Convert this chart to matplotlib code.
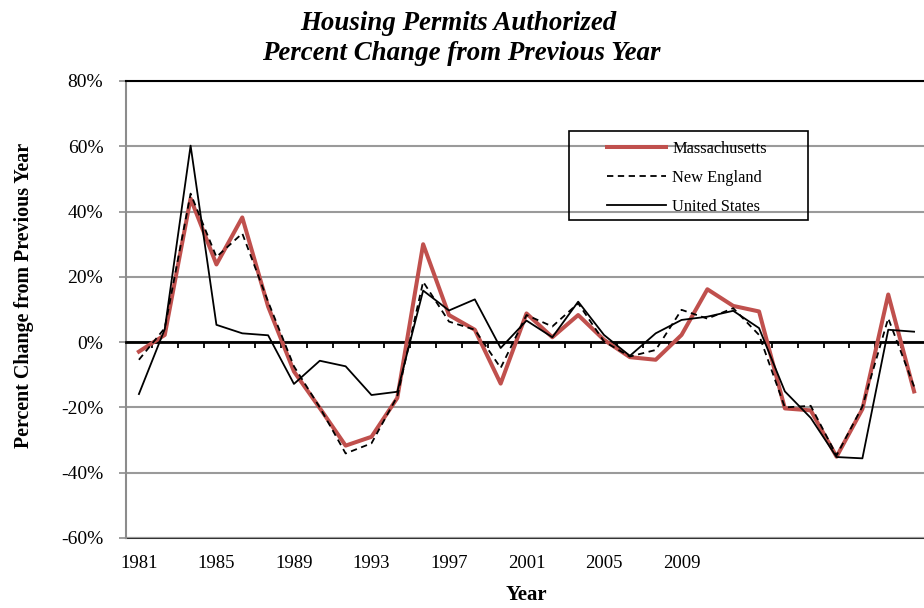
import numpy as np
import matplotlib
matplotlib.use("Agg")
import matplotlib.pyplot as plt
from matplotlib.patches import Rectangle
from matplotlib.ticker import FuncFormatter, FixedLocator

plt.rcParams["font.family"] = ["Liberation Serif", "DejaVu Serif"]

# annual % change in housing permits, one value per category, 31 categories
massachusetts = [-2.9, 2.2, 44.0, 23.8, 38.2, 10.9, -9.0, -20.2, -31.7, -29.0,
                 -17.1, 30.0, 8.3, 3.8, -12.7, 8.8, 1.5, 8.3, 0.7, -4.6,
                 -5.4, 2.2, 16.2, 11.1, 9.4, -20.3, -20.9, -35.1, -20.5, 14.6,
                 -15.1]
new_england = [-5.4, 4.3, 45.5, 26.1, 33.3, 12.4, -7.4, -20.0, -34.1, -31.0,
               -16.6, 18.5, 6.3, 3.8, -7.9, 8.3, 4.8, 11.9, 0.2, -4.4,
               -2.4, 9.9, 7.2, 10.4, 2.2, -20.0, -19.5, -34.7, -19.7, 7.3,
               -13.6]
united_states = [-15.9, 4.0, 60.2, 5.3, 2.7, 2.1, -12.8, -5.7, -7.4, -16.2,
                 -15.2, 15.8, 9.7, 13.1, -1.8, 6.6, 1.5, 12.4, 2.2, -4.2,
                 2.7, 6.8, 7.8, 9.6, 4.3, -15.1, -23.2, -35.2, -35.6, 3.8,
                 3.2]
year_labels = ["1981", "1985", "1989", "1993", "1997", "2001", "2005", "2009"]
label_step = 3

x = np.arange(len(massachusetts))

W, H = 924, 608
fig = plt.figure(figsize=(W / 100, H / 100), dpi=100)
ax = fig.add_axes([126 / W, 1 - 538 / H, 801 / W, 457 / H])

ax.plot(x, massachusetts, color="#C0504D", lw=2.9, zorder=4,
        label="Massachusetts")
ax.plot(x, new_england, color="black", lw=1.3, ls=(0, (3.5, 2.5)), zorder=4,
        label="New England")
ax.plot(x, united_states, color="black", lw=1.3, zorder=4,
        label="United States")

ax.set_xlim(-0.5, len(x) - 0.5)
ax.set_ylim(-60, 80)

# value axis
ax.yaxis.set_major_locator(FixedLocator(np.arange(-60, 81, 20)))
ax.yaxis.set_major_formatter(FuncFormatter(lambda v, p: "%d%%" % v))
ax.tick_params(axis="y", direction="out", length=4.8, width=1.2,
               color="#8c8c8c", labelsize=14, pad=11.5)
ax.grid(axis="y", color="#9a9a9a", lw=1.5, zorder=0)
ax.set_axisbelow(True)
ax.spines["left"].set_color("#8c8c8c")
ax.spines["left"].set_linewidth(1.5)
ax.spines["top"].set_color("black")
ax.spines["top"].set_linewidth(1.5)
ax.spines["right"].set_visible(False)

# category axis crossing at zero, ticks between categories
ax.spines["bottom"].set_position(("data", 0))
ax.spines["bottom"].set_linewidth(2)
ax.spines["bottom"].set_zorder(3)
ax.xaxis.set_major_locator(FixedLocator([]))
ax.xaxis.set_minor_locator(FixedLocator(x[:-1] + 0.5))
ax.tick_params(axis="x", which="minor", direction="out", length=4.5,
               width=1.3, color="black")

# labels along the bottom edge
sec = ax.secondary_xaxis(0)
sec.set_xticks(x[::label_step][:len(year_labels)], year_labels)
sec.tick_params(length=0, labelsize=13.5, pad=12)
sec.spines["bottom"].set_color("#333333")
sec.spines["bottom"].set_linewidth(1.5)

fig.text(526 / W, 1 - 595 / H, "Year", ha="center", va="center",
         fontsize=15, fontweight="bold")
fig.text(24 / W, 1 - 295 / H, "Percent Change from Previous Year",
         rotation=90, ha="center", va="center", fontsize=14.4,
         fontweight="bold")
fig.text(458 / W, 1 - 24 / H, "Housing Permits Authorized", ha="center",
         va="center", fontsize=19.4, fontweight="bold", style="italic")
fig.text(461 / W, 1 - 54 / H, "Percent Change from Previous Year",
         ha="center", va="center", fontsize=19.4, fontweight="bold",
         style="italic")

# legend entries without frame, box drawn around them
leg = ax.legend(loc="upper left", bbox_to_anchor=(607 / W, 1 - 141 / H),
                bbox_transform=fig.transFigure, borderaxespad=0,
                borderpad=0, frameon=False, fontsize=11.8,
                handlelength=3.6, labelspacing=0.8, handletextpad=0.37)
fig.patches.append(Rectangle((569 / W, 1 - 220 / H), 239 / W, 89 / H,
                             transform=fig.transFigure, fill=False,
                             edgecolor="black", lw=1.2, zorder=5))

fig.savefig("out.png", dpi=100)
